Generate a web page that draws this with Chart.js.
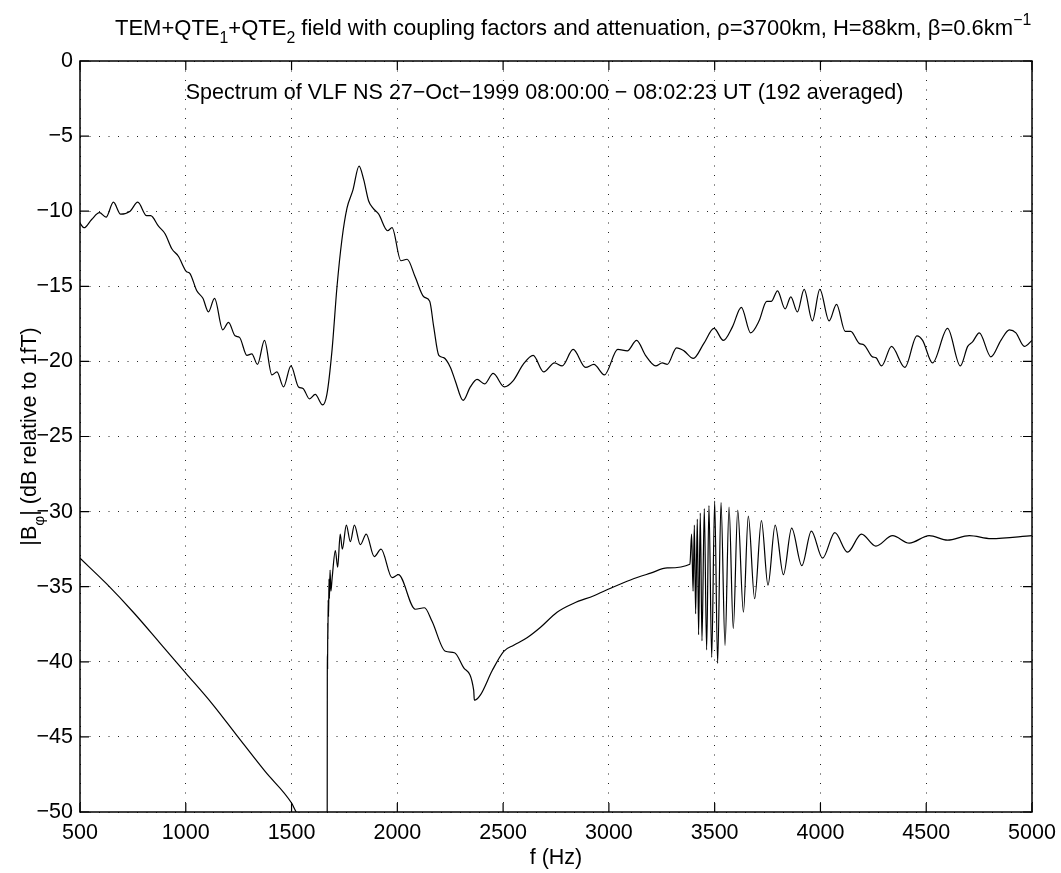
<!DOCTYPE html>
<html>
<head>
<meta charset="utf-8">
<script src="https://cdn.jsdelivr.net/npm/chart.js@4.4.1/dist/chart.umd.min.js"></script>
<style>
html,body{margin:0;padding:0;background:#fff;}
#wrap{width:1061px;height:873px;}
</style>
</head>
<body>
<div id="wrap"><canvas id="c" width="1061" height="873"></canvas></div>
<script>
// ---- data ----
const measuredFreq = [500,519,555,592,623,658,692,737,773,815,834,871,902,934,965,1002,1020,1052,1081,1107,1136,1175,1202,1233,1254,1289,1312,1339,1372,1407,1431,1462,1497,1533,1554,1585,1612,1647,1667,1691,1715,1738,1762,1790,1819,1841,1864,1885,1912,1954,1975,2017,2046,2085,2125,2153,2172,2196,2219,2251,2274,2311,2345,2377,2412,2453,2506,2547,2595,2642,2692,2743,2779,2831,2890,2929,2979,3042,3087,3131,3173,3221,3252,3276,3320,3355,3399,3449,3497,3541,3584,3626,3670,3710,3746,3768,3797,3833,3860,3891,3923,3962,3997,4041,4076,4117,4143,4183,4206,4246,4262,4289,4336,4399,4456,4483,4530,4601,4661,4696,4719,4751,4806,4853,4893,4924,4964,5000];
const measuredDb = [-10.8,-11.1,-10.55,-10.1,-10.4,-9.4,-10.2,-10.0,-9.4,-10.3,-10.3,-11.0,-11.5,-12.5,-13.0,-14.0,-14.15,-15.3,-15.8,-16.7,-15.8,-17.9,-17.4,-18.3,-18.4,-19.6,-19.5,-20.2,-18.6,-20.9,-20.7,-21.7,-20.3,-21.7,-21.8,-22.5,-22.2,-22.9,-22.2,-19.3,-15.0,-11.9,-9.8,-8.6,-7.0,-7.9,-9.3,-9.8,-10.2,-11.3,-11.1,-13.3,-13.2,-14.4,-15.7,-16.0,-17.7,-19.6,-19.75,-20.4,-21.3,-22.6,-21.7,-21.2,-21.5,-20.8,-21.7,-21.3,-20.2,-19.6,-20.7,-20.1,-20.3,-19.2,-20.4,-20.2,-20.9,-19.2,-19.3,-18.6,-19.6,-20.3,-20.1,-20.2,-19.1,-19.3,-19.8,-18.8,-17.8,-18.6,-17.7,-16.4,-18.1,-17.3,-16.0,-16.0,-15.3,-16.5,-15.7,-16.7,-15.2,-17.3,-15.2,-17.3,-16.2,-18.0,-18.0,-18.8,-18.9,-19.7,-19.75,-20.3,-19.0,-20.4,-18.3,-18.6,-20.1,-17.8,-20.3,-19.0,-18.7,-18.1,-19.7,-18.6,-17.9,-18.1,-19.0,-18.6];

const modelFreq = [500,625,752,875,1000,1125,1241,1375,1500,1522,1600,1660,1668,1669,1670,1670.5,1671,1672,1673,1675,1677,1679,1682,1686,1692,1707,1718,1730,1740,1759,1778,1797,1825,1853,1891,1923,1975,2005,2085,2128,2164,2227,2270,2314,2361,2364,2393,2448,2503,2550,2613,2677,2755,2834,2929,3008,3102,3197,3276,3383,3391,3398,3404,3410,3418,3424,3432,3440,3451,3462,3473,3486,3500,3514,3530,3549,3568,3588,3609,3636,3659,3689,3721,3752,3786,3825,3864,3912,3957,4010,4068,4128,4194,4262,4341,4420,4514,4601,4704,4806,5000];
const modelDb = [-33.1,-34.8,-36.7,-38.7,-40.75,-42.8,-44.9,-47.3,-49.4,-50.0,-51.5,-52.7,-60,-41,-39.5,-40.5,-37.4,-38.5,-35.9,-37.0,-34.5,-35.8,-33.9,-35.3,-34.4,-32.6,-33.7,-31.5,-32.5,-30.9,-32.0,-30.9,-32.2,-31.5,-33.0,-32.5,-34.4,-34.2,-36.5,-36.4,-37.3,-39.3,-39.4,-40.4,-41.9,-42.55,-42.2,-40.6,-39.3,-38.9,-38.4,-37.7,-36.7,-36.1,-35.6,-35.1,-34.55,-34.1,-33.75,-33.5,-31.5,-35.3,-30.9,-36.8,-30.5,-38.2,-30.1,-38.6,-29.8,-39.2,-29.6,-39.7,-29.3,-40.1,-29.4,-38.9,-29.7,-37.8,-29.9,-36.7,-30.3,-35.8,-30.6,-34.9,-30.9,-34.2,-31.1,-33.6,-31.3,-33.1,-31.4,-32.7,-31.5,-32.3,-31.6,-32.1,-31.6,-31.9,-31.6,-31.8,-31.6];

const xTicks = [500,1000,1500,2000,2500,3000,3500,4000,4500,5000];
const yTicks = [0,-5,-10,-15,-20,-25,-30,-35,-40,-45,-50];

const titleParts = [["TEM+QTE",""],["1","sub"],["+QTE",""],["2","sub"],[" field with coupling factors and attenuation, \u03c1=3700km, H=88km, \u03b2=0.6km",""],["\u22121","sup"]];
const yLabelParts = [["|B",""],["\u03c6","sub"],["| (dB relative to 1fT)",""]];
const xLabel = "f (Hz)";
const noteText = "Spectrum of VLF NS 27\u2212Oct\u22121999 08:00:00 \u2212 08:02:23 UT (192 averaged)";

// ---- drawing ----
const FONT = '"Liberation Sans", Arial, Helvetica, sans-serif';
const FS = 21.5;
const TFS = 22;
const toPts = (xs, ys) => xs.map((x, i) => ({x: x, y: ys[i]}));

function drawRich(ctx, parts, x, y, size, align) {
  const sub = size * 0.72;
  let total = 0;
  const widths = parts.map(p => {
    ctx.font = (p[1] ? sub : size) + 'px ' + FONT;
    const w = ctx.measureText(p[0]).width;
    total += w;
    return w;
  });
  let cx = align === 'center' ? x - total / 2 : x;
  ctx.textBaseline = 'alphabetic';
  ctx.textAlign = 'left';
  parts.forEach((p, i) => {
    ctx.font = (p[1] ? sub : size) + 'px ' + FONT;
    let dy = 0;
    if (p[1] === 'sub') dy = size * 0.38;
    if (p[1] === 'sup') dy = -size * 0.45;
    ctx.fillText(p[0], cx, y + dy);
    cx += widths[i];
  });
}

const framePlugin = {
  id: 'frame',
  afterDraw(chart) {
    const ctx = chart.ctx;
    const a = chart.chartArea;
    const xs = chart.scales.x, ys = chart.scales.y;
    ctx.save();
    ctx.strokeStyle = '#000';
    ctx.lineWidth = 1.5;
    ctx.strokeRect(a.left, a.top, a.right - a.left, a.bottom - a.top);
    ctx.lineWidth = 1.2;
    const L = 9;
    ctx.beginPath();
    xTicks.forEach(v => {
      const px = xs.getPixelForValue(v);
      ctx.moveTo(px, a.bottom); ctx.lineTo(px, a.bottom - L);
      ctx.moveTo(px, a.top); ctx.lineTo(px, a.top + L);
    });
    yTicks.forEach(v => {
      const py = ys.getPixelForValue(v);
      ctx.moveTo(a.left, py); ctx.lineTo(a.left + L, py);
      ctx.moveTo(a.right, py); ctx.lineTo(a.right - L, py);
    });
    ctx.stroke();

    ctx.fillStyle = '#000';
    // title
    drawRich(ctx, titleParts, 115, 35, TFS, 'left');
    // note inside axes
    ctx.font = FS + 'px ' + FONT;
    ctx.textAlign = 'left';
    ctx.textBaseline = 'middle';
    ctx.fillText(noteText, xs.getPixelForValue(1000), 93);
    // x label
    ctx.textAlign = 'center';
    ctx.fillText(xLabel, (a.left + a.right) / 2, 858);
    // y label
    ctx.translate(29, (a.top + a.bottom) / 2);
    ctx.rotate(-Math.PI / 2);
    drawRich(ctx, yLabelParts, 0, 7, FS, 'center');
    ctx.restore();
  }
};

const lineStyle = {
  borderColor: '#000', borderWidth: 1.2, pointRadius: 0, fill: false,
  cubicInterpolationMode: 'monotone'
};

new Chart(document.getElementById('c'), {
  type: 'line',
  data: {
    datasets: [
      Object.assign({ label: 'measured', data: toPts(measuredFreq, measuredDb) }, lineStyle),
      Object.assign({ label: 'model', data: toPts(modelFreq, modelDb) }, lineStyle)
    ]
  },
  options: {
    responsive: false,
    animation: false,
    layout: { padding: { top: 61, right: 29, left: 0, bottom: 0 } },
    plugins: { legend: { display: false }, tooltip: { enabled: false }, title: { display: false } },
    scales: {
      x: {
        type: 'linear', min: 500, max: 5000,
        afterBuildTicks(s) { s.ticks = xTicks.map(v => ({ value: v })); },
        afterFit(s) { s.height = 61; s.paddingLeft = 0; s.paddingRight = 0; },
        ticks: { color: '#000', font: { family: FONT, size: FS }, padding: 8, maxRotation: 0, autoSkip: false,
          callback: v => String(v) },
        grid: { color: '#222', lineWidth: 1, drawTicks: false },
        border: { display: false, dash: [1, 8.5] }
      },
      y: {
        type: 'linear', min: -50, max: 0,
        afterBuildTicks(s) { s.ticks = yTicks.map(v => ({ value: v })); },
        afterFit(s) { s.width = 80; s.paddingTop = 0; s.paddingBottom = 0; },
        ticks: { color: '#000', font: { family: FONT, size: FS }, padding: 7,
          callback: v => String(v).replace('-', '\u2212') },
        grid: { color: '#222', lineWidth: 1, drawTicks: false },
        border: { display: false, dash: [1, 8.5] }
      }
    }
  },
  plugins: [framePlugin]
});
</script>
</body>
</html>
